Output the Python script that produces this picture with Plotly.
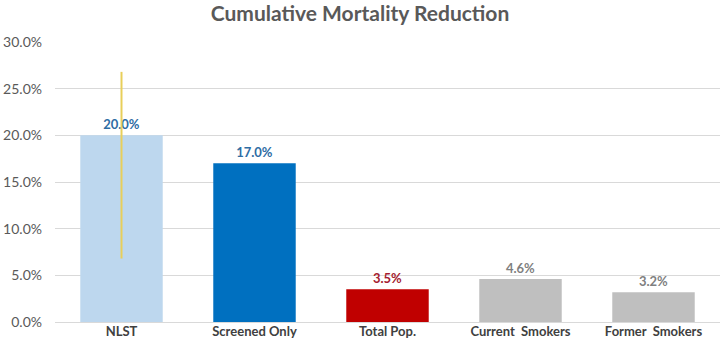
import plotly.graph_objects as go

categories = ["NLST", "Screened Only", "Total Pop.", "Current  Smokers", "Former  Smokers"]
values = [20.0, 17.0, 3.5, 4.6, 3.2]
labels = ["20.0%", "17.0%", "3.5%", "4.6%", "3.2%"]
err_plus = [6.8, 0, 0, 0, 0]
err_minus = [13.2, 0, 0, 0, 0]
bar_colors = ["#BDD7EE", "#0070C0", "#C00000", "#BFBFBF", "#BFBFBF"]
label_colors = ["#2E6DA4", "#2E6DA4", "#A51C30", "#7F7F7F", "#7F7F7F"]
tick_vals = [0, 5, 10, 15, 20, 25, 30]
tick_text = ["0.0%", "5.0%", "10.0%", "15.0%", "20.0%", "25.0%", "30.0%"]

fig = go.Figure()
fig.add_trace(go.Bar(
    x=categories, y=values,
    marker=dict(color=bar_colors, line=dict(width=0)),
    text=labels, textposition="outside", cliponaxis=False,
    textfont=dict(family="Lato", size=13, color=label_colors, weight="bold"),
    error_y=dict(type="data", symmetric=False, array=err_plus, arrayminus=err_minus,
                 color="#E8CF5A", thickness=2, width=0),
))
fig.update_layout(
    width=720, height=350,
    margin=dict(l=55, r=0, t=42, b=28),
    paper_bgcolor="white", plot_bgcolor="white",
    bargap=0.38,
    showlegend=False,
    title=dict(text="<b>Cumulative Mortality Reduction</b>", x=0.5, xanchor="center",
               y=1 - 14 / 350, yanchor="middle",
               font=dict(family="Lato", size=21, color="#595959")),
    font=dict(family="Lato", color="#595959"),
)
fig.update_yaxes(range=[0, 30], tickvals=tick_vals, ticktext=tick_text,
                 automargin=False,
                 showgrid=True, gridcolor="#D9D9D9", gridwidth=1,
                 zeroline=True, zerolinecolor="#D9D9D9", zerolinewidth=1,
                 tickfont=dict(family="Lato", size=14, color="#595959"),
                 ticks="", showline=False, ticklabelstandoff=12)
fig.update_xaxes(tickfont=dict(family="Lato", size=13, color="#404040", weight="bold"),
                 automargin=False,
                 showline=False, ticks="")
fig.write_html("out.html", config={"displayModeBar": False},
               post_script="document.body.style.margin='0';")
